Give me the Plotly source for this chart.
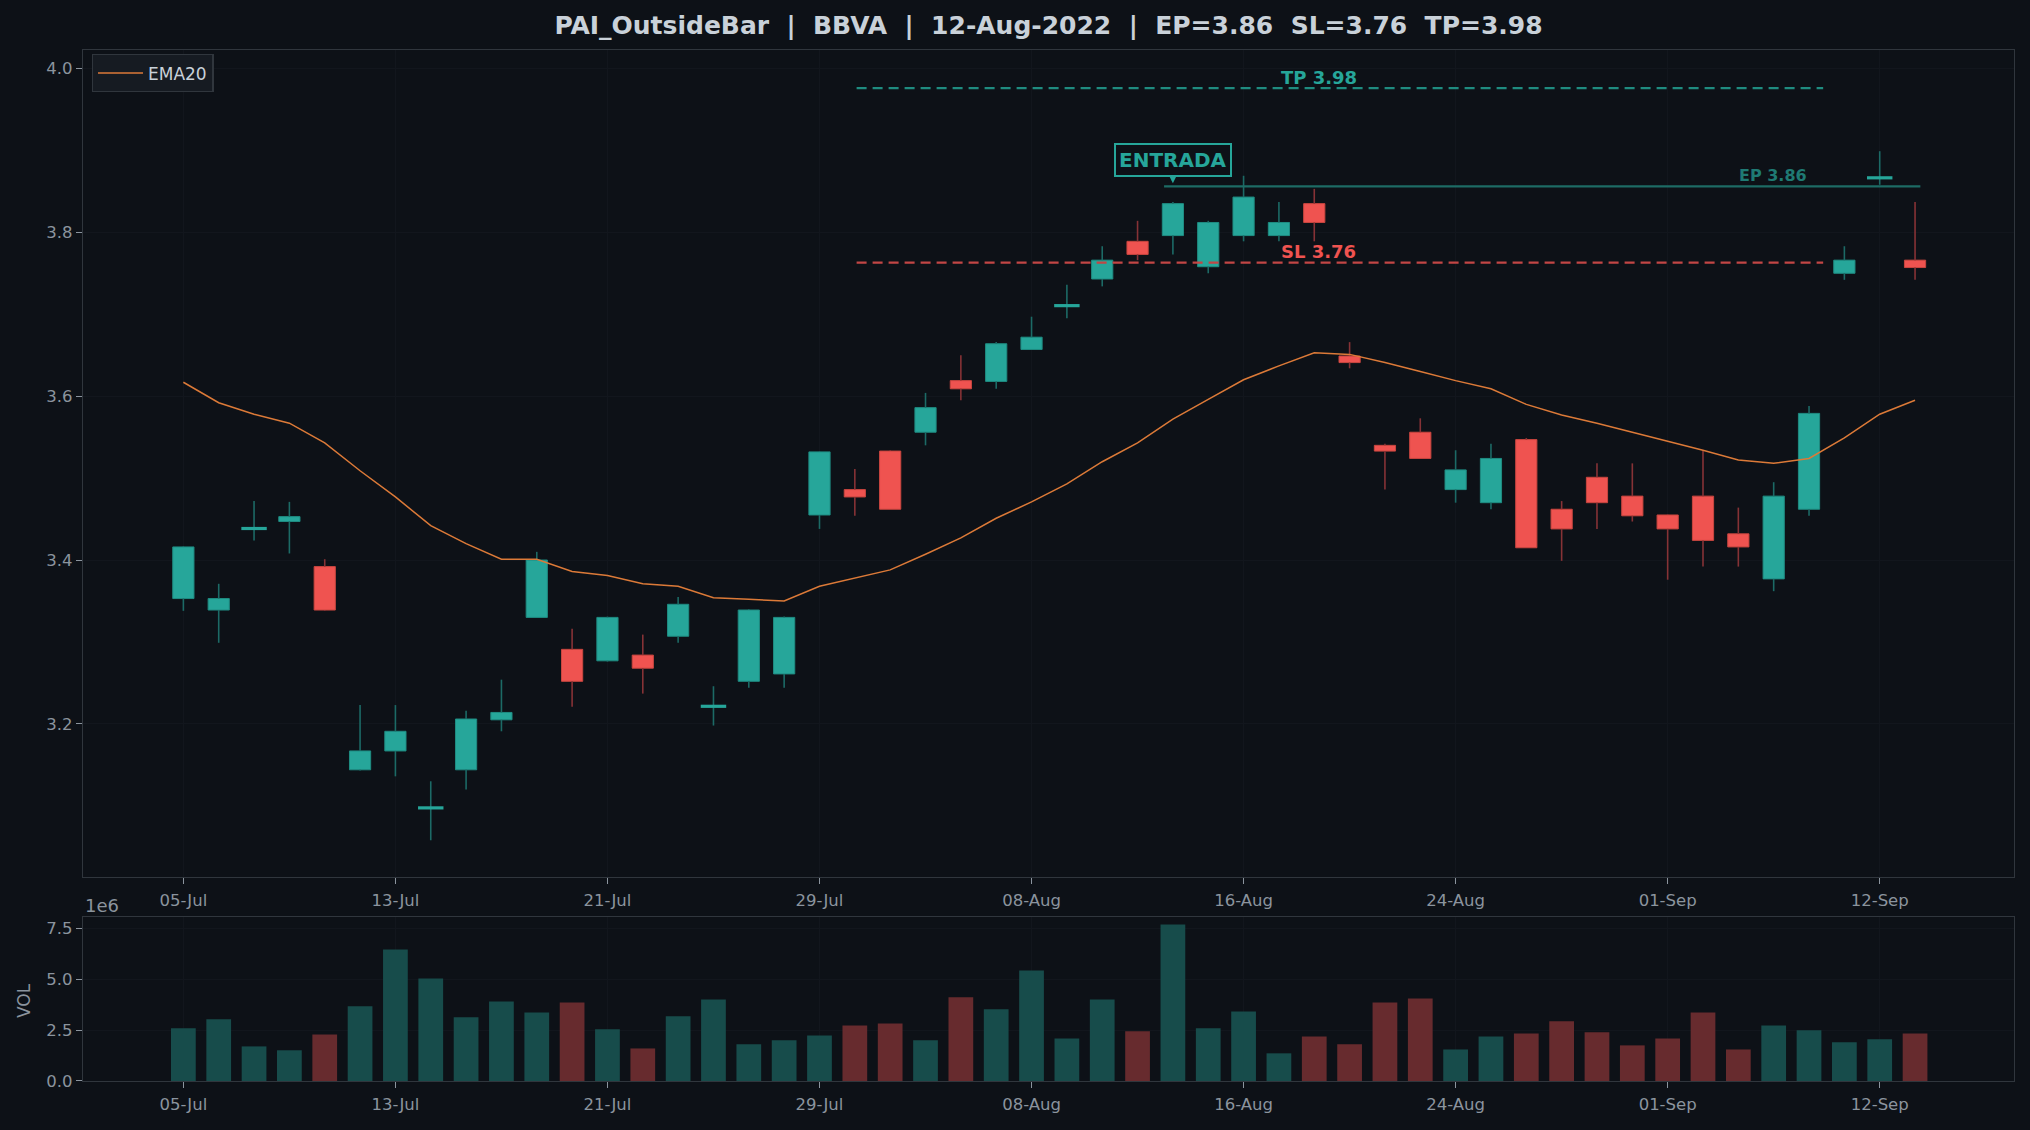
import plotly.graph_objects as go

# ---------------- data ----------------
dates = ["05-Jul", "06-Jul", "07-Jul", "08-Jul", "11-Jul", "12-Jul", "13-Jul", "14-Jul", "15-Jul",
         "18-Jul", "19-Jul", "20-Jul", "21-Jul", "22-Jul", "25-Jul", "26-Jul", "27-Jul", "28-Jul", "29-Jul",
         "01-Aug", "02-Aug", "03-Aug", "04-Aug", "05-Aug", "08-Aug", "09-Aug", "10-Aug", "11-Aug", "12-Aug",
         "15-Aug", "16-Aug", "17-Aug", "18-Aug", "19-Aug", "22-Aug", "23-Aug", "24-Aug", "25-Aug", "26-Aug",
         "29-Aug", "30-Aug", "31-Aug", "01-Sep", "02-Sep", "06-Sep", "07-Sep", "08-Sep", "09-Sep", "12-Sep", "13-Sep"]

opens = [3.353, 3.339, 3.438, 3.447, 3.392, 3.144, 3.167, 3.097, 3.144, 3.205,
         3.330, 3.291, 3.277, 3.284, 3.307, 3.221, 3.252, 3.261, 3.455, 3.486,
         3.533, 3.556, 3.619, 3.618, 3.657, 3.710, 3.743, 3.789, 3.796, 3.758,
         3.796, 3.796, 3.835, 3.649, 3.540, 3.556, 3.486, 3.470, 3.547, 3.462,
         3.501, 3.478, 3.455, 3.478, 3.432, 3.377, 3.462, 3.750, 3.866, 3.766]
highs = [3.417, 3.371, 3.472, 3.471, 3.401, 3.223, 3.223, 3.130, 3.216, 3.254,
         3.410, 3.316, 3.331, 3.309, 3.355, 3.246, 3.340, 3.331, 3.533, 3.511,
         3.534, 3.604, 3.650, 3.666, 3.697, 3.736, 3.783, 3.814, 3.837, 3.814,
         3.869, 3.837, 3.853, 3.666, 3.542, 3.573, 3.534, 3.542, 3.549, 3.472,
         3.518, 3.518, 3.456, 3.534, 3.464, 3.495, 3.588, 3.783, 3.899, 3.837]
lows = [3.338, 3.299, 3.424, 3.408, 3.338, 3.143, 3.136, 3.058, 3.120, 3.191,
        3.330, 3.221, 3.276, 3.237, 3.299, 3.198, 3.244, 3.244, 3.438, 3.454,
        3.462, 3.540, 3.595, 3.609, 3.657, 3.695, 3.734, 3.766, 3.773, 3.750,
        3.789, 3.789, 3.789, 3.634, 3.486, 3.524, 3.470, 3.462, 3.415, 3.399,
        3.438, 3.447, 3.376, 3.392, 3.392, 3.362, 3.454, 3.742, 3.858, 3.742]
closes = [3.416, 3.353, 3.439, 3.453, 3.339, 3.167, 3.191, 3.098, 3.206, 3.214,
          3.400, 3.252, 3.330, 3.268, 3.346, 3.222, 3.339, 3.330, 3.532, 3.477,
          3.462, 3.586, 3.609, 3.664, 3.672, 3.711, 3.766, 3.773, 3.835, 3.812,
          3.843, 3.812, 3.812, 3.641, 3.533, 3.524, 3.510, 3.524, 3.415, 3.438,
          3.470, 3.454, 3.438, 3.424, 3.416, 3.478, 3.579, 3.766, 3.867, 3.757]
volume_m = [2.59, 3.03, 1.70, 1.51, 2.29, 3.67, 6.46, 5.04, 3.13, 3.91,
            3.37, 3.86, 2.54, 1.60, 3.18, 4.01, 1.80, 2.00, 2.24, 2.73,
            2.83, 2.00, 4.11, 3.52, 5.43, 2.09, 4.01, 2.44, 7.69, 2.59,
            3.42, 1.36, 2.19, 1.80, 3.86, 4.06, 1.55, 2.19, 2.34, 2.93,
            2.39, 1.75, 2.09, 3.37, 1.55, 2.73, 2.49, 1.90, 2.05, 2.34]
ema20 = [3.617, 3.592, 3.578, 3.567, 3.543, 3.509, 3.477, 3.442, 3.420, 3.401,
         3.401, 3.386, 3.381, 3.371, 3.368, 3.354, 3.352, 3.350, 3.368, 3.378,
         3.388, 3.407, 3.427, 3.451, 3.471, 3.493, 3.520, 3.543, 3.572, 3.596,
         3.620, 3.637, 3.653, 3.651, 3.641, 3.630, 3.619, 3.609, 3.590, 3.577,
         3.567, 3.556, 3.545, 3.534, 3.522, 3.518, 3.524, 3.549, 3.578, 3.595]

ticker = "BBVA"
pattern = "PAI_OutsideBar"
entry_date = "12-Aug-2022"
entry_idx = 28
EP, SL, TP = 3.856, 3.763, 3.976
level_start, level_end = 19.05, 46.4      # TP / SL dashed lines (bar index)
ep_start, ep_end = 27.75, 49.15            # EP solid line (bar index)
label_x, ep_label_x = 31, 46
tick_every = 6

# ---------------- styles ----------------
BG = "#0d1117"
GRID = "#12161d"
FRAME = "#30363d"
TXT = "#8b949e"
TITLE = "#c9d1d9"
UP = "#26a69a"
DN = "#ef5350"
UP_WICK = "#1c6a66"
DN_WICK = "#863236"
UP_VOL = "#174c4b"
DN_VOL = "#672b2e"
EMA_C = "#dc7a38"
FONT = "DejaVu Sans"
TICK_SIZE = 16.5

n = len(closes)
xs = list(range(n))
DOJI = 0.004

fig = go.Figure()

# wicks (drawn outside the bodies)
wick = {True: ([], []), False: ([], [])}
body_x, body_base, body_h, body_fill, body_line = [], [], [], [], []
doji_x, doji_y = [], []
for i, (o, h, l, c) in enumerate(zip(opens, highs, lows, closes)):
    up = c >= o
    top, bot = max(o, c), min(o, c)
    wx, wy = wick[up]
    if abs(c - o) < DOJI:
        wx += [i, i, None]
        wy += [l, h, None]
        doji_x += [i - 0.36, i + 0.36, None]
        mid = (o + c) / 2
        doji_y += [mid, mid, None]
    else:
        wx += [i, i, None, i, i, None]
        wy += [l, bot, None, top, h, None]
        body_x.append(i)
        body_base.append(bot)
        body_h.append(top - bot)
        body_fill.append(UP if up else DN)
        body_line.append("#1f8c82" if up else "#c9463f")

for up, col in ((True, UP_WICK), (False, DN_WICK)):
    fig.add_trace(go.Scatter(x=wick[up][0], y=wick[up][1], mode="lines",
                             line=dict(color=col, width=1.6), hoverinfo="skip",
                             showlegend=False, xaxis="x", yaxis="y"))

fig.add_trace(go.Bar(x=body_x, y=body_h, base=body_base, width=0.6,
                     marker=dict(color=body_fill, line=dict(color=body_line, width=1)),
                     showlegend=False, xaxis="x", yaxis="y"))

fig.add_trace(go.Scatter(x=doji_x, y=doji_y, mode="lines", line=dict(color=UP, width=3.2),
                         showlegend=False, xaxis="x", yaxis="y"))

# EMA
fig.add_trace(go.Scatter(x=xs, y=ema20, mode="lines", name="EMA20",
                         line=dict(color=EMA_C, width=1.5), xaxis="x", yaxis="y"))

# levels
fig.add_trace(go.Scatter(x=[level_start, level_end], y=[TP, TP], mode="lines",
                         line=dict(color="#1f8c80", width=2.2, dash="10px,6px"),
                         showlegend=False, xaxis="x", yaxis="y"))
fig.add_trace(go.Scatter(x=[level_start, level_end], y=[SL, SL], mode="lines",
                         line=dict(color="#c24645", width=2.2, dash="10px,6px"),
                         showlegend=False, xaxis="x", yaxis="y"))
fig.add_trace(go.Scatter(x=[ep_start, ep_end], y=[EP, EP], mode="lines",
                         line=dict(color="#1d6b65", width=2.2),
                         showlegend=False, xaxis="x", yaxis="y"))

# volume
vol = [v * 1e6 for v in volume_m]
vol_col = [UP_VOL if c >= o else DN_VOL for o, c in zip(opens, closes)]
fig.add_trace(go.Bar(x=xs, y=vol, width=0.7, marker=dict(color=vol_col, line=dict(width=0)),
                     showlegend=False, xaxis="x2", yaxis="y2"))

tickvals = xs[::tick_every]
ticktext = dates[::tick_every]

axis_common = dict(showgrid=True, gridcolor=GRID, gridwidth=1, zeroline=False,
                   showline=True, linecolor=FRAME, linewidth=1.3, mirror=True,
                   ticks="outside", ticklen=6, tickcolor=TXT, tickwidth=1,
                   tickfont=dict(family=FONT, size=TICK_SIZE, color=TXT))

title_txt = (f"<b>{pattern}\u00a0\u00a0|\u00a0\u00a0{ticker}\u00a0\u00a0|\u00a0\u00a0{entry_date}"
             f"\u00a0\u00a0|\u00a0\u00a0EP={EP:.2f}\u00a0\u00a0SL={SL:.2f}\u00a0\u00a0TP={TP:.2f}</b>")

fig.update_layout(
    width=2030, height=1130,
    paper_bgcolor=BG, plot_bgcolor=BG,
    margin=dict(l=83, r=16, t=50, b=49),
    barmode="overlay",
    font=dict(family=FONT, size=15, color=TXT),
    title=dict(text=title_txt, x=0.5, xref="paper", xanchor="center",
               y=1 - 25 / 1130, yref="container", yanchor="middle",
               font=dict(family=FONT, size=25, color=TITLE)),
    showlegend=True,
    legend=dict(x=0.0045, y=0.996, xanchor="left", yanchor="top",
                bgcolor="#161b22", bordercolor=FRAME, borderwidth=1.3,
                itemwidth=45, tracegroupgap=0,
                font=dict(family=FONT, size=17, color=TITLE)),
    xaxis=dict(domain=[0, 1], anchor="y", range=[-2.84, 51.8],
               tickvals=tickvals, ticktext=ticktext, ticklabelstandoff=2, **axis_common),
    yaxis=dict(domain=[0.1979, 1], anchor="x", range=[3.0132, 4.0225],
               tick0=0, dtick=0.2, tickformat=".1f", **axis_common),
    xaxis2=dict(domain=[0, 1], anchor="y2", range=[-2.84, 51.8], matches="x",
                tickvals=tickvals, ticktext=ticktext, ticklabelstandoff=2, **axis_common),
    yaxis2=dict(domain=[0, 0.1591], anchor="x2", range=[0, 8.06e6],
                tickvals=[0, 2.5e6, 5e6, 7.5e6], ticktext=["0.0", "2.5", "5.0", "7.5"],
                **axis_common),
)

annotations = [
    dict(x=label_x, y=TP, xref="x", yref="y", text=f"<b>TP {TP:.2f}</b>", showarrow=False,
         xanchor="left", yanchor="middle", yshift=11,
         font=dict(family=FONT, size=18, color=UP)),
    dict(x=label_x, y=SL, xref="x", yref="y", text=f"<b>SL {SL:.2f}</b>", showarrow=False,
         xanchor="left", yanchor="middle", yshift=11,
         font=dict(family=FONT, size=18, color=DN)),
    dict(x=ep_label_x, y=EP, xref="x", yref="y", text=f"<b>EP {EP:.2f}</b>", showarrow=False,
         xanchor="right", yanchor="middle", yshift=11,
         font=dict(family=FONT, size=16, color="#1f7a73")),
    dict(x=entry_idx, y=3.86, xref="x", yref="y", text="<b>ENTRADA</b>", showarrow=True,
         ax=0, ay=-23, arrowhead=2, arrowsize=0.8, arrowwidth=2, arrowcolor=UP,
         bordercolor=UP, borderwidth=2, borderpad=3, bgcolor=BG,
         font=dict(family=FONT, size=20, color=UP)),
    dict(x=0, y=(1081 - 905) / 1031, xref="paper", yref="paper", text="1e6", showarrow=False,
         xanchor="left", yanchor="middle", font=dict(family=FONT, size=18, color=TXT)),
    dict(x=(23.3 - 83) / 1931, y=(1081 - 1000.7) / 1031, xref="paper", yref="paper", text="VOL",
         showarrow=False, textangle=-90, xanchor="center", yanchor="middle",
         font=dict(family=FONT, size=17, color=TXT)),
]
fig.update_layout(annotations=annotations)

fig.write_html("out.html")
